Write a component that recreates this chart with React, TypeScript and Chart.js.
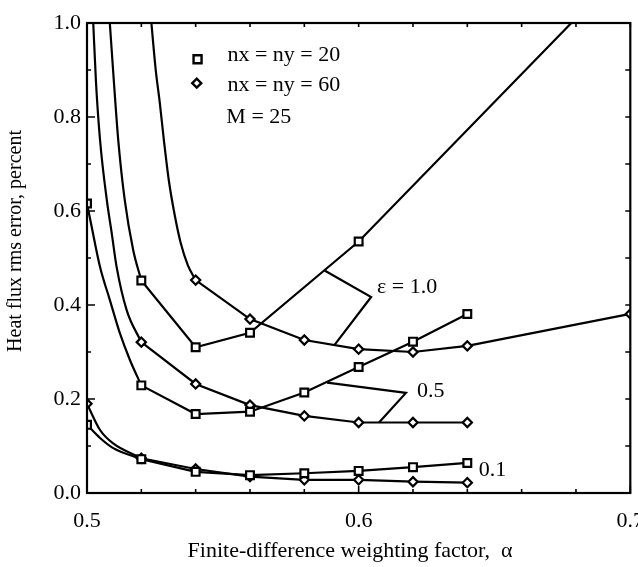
import React, { useEffect, useRef } from 'react';
import { Chart, registerables } from 'chart.js';

Chart.register(...registerables);

// Abscissas where markers are drawn (finite-difference weighting factor)
const alphaValues = [0.5, 0.52, 0.54, 0.56, 0.58, 0.6, 0.62, 0.64, 0.7];

// Heat flux rms error (percent) at the marked abscissas; null = no marker
const eps10Nx20 = [null, 0.452, 0.31, 0.341, null, 0.535, null, null, null];
const eps10Nx60 = [null, null, 0.453, 0.37, 0.3255, 0.306, 0.3, 0.313, 0.381];
const eps05Nx20 = [0.616, 0.229, 0.168, 0.173, 0.214, 0.268, 0.322, 0.381, null];
const eps05Nx60 = [null, 0.321, 0.232, 0.187, 0.164, 0.15, 0.15, 0.15, null];
const eps01Nx20 = [0.145, 0.072, 0.045, 0.038, 0.042, 0.047, 0.055, 0.064, null];
const eps01Nx60 = [0.19, 0.074, 0.051, 0.035, 0.028, 0.028, 0.024, 0.022, null];

// Unmarked points
const eps10Nx20TraceX = [0.5084, 0.5099, 0.5115, 0.5139, 0.517, 0.6783];
const eps10Nx20TraceY = [1.0, 0.875, 0.751, 0.623, 0.517, 1.0];
const eps10Nx60TraceX = [0.5237, 0.5253, 0.5268, 0.5283, 0.5301, 0.5323, 0.5345, 0.5371];
const eps10Nx60TraceY = [1.0, 0.9, 0.83, 0.751, 0.666, 0.591, 0.532, 0.485];
const eps05Nx20TraceX = [0.5017, 0.5048, 0.5084, 0.5121, 0.5158];
const eps05Nx20TraceY = [0.567, 0.481, 0.411, 0.34, 0.283];
const eps05Nx60TraceX = [0.5023, 0.5033, 0.5048, 0.5073, 0.5091, 0.5109, 0.5146];
const eps05Nx60TraceY = [1.0, 0.875, 0.751, 0.623, 0.553, 0.481, 0.389];
const eps01Nx20TraceX = [0.5048, 0.5095];
const eps01Nx20TraceY = [0.117, 0.096];
const eps01Nx60TraceX = [0.5048, 0.5095];
const eps01Nx60TraceY = [0.134, 0.106];

// Where each curve stops being a smooth curve and becomes straight segments
const smoothEnds = [0.52, 0.54, 0.52, 0.52, 0.52, 0.52];

// Texts
const legendLabels = ['nx = ny = 20', 'nx = ny = 60'];
const legendNote = 'M = 25';
const curveLabels = ['\u03b5 = 1.0', '0.5', '0.1'];
const xTitle = 'Finite-difference weighting factor,  \u03b1';
const yTitle = 'Heat flux rms error, percent';

type Pt = { x: number; y: number; marked: boolean };

function buildCurve(values: (number | null)[], traceX: number[], traceY: number[]): Pt[] {
  const pts: Pt[] = [];
  alphaValues.forEach((a, i) => {
    const v = values[i];
    if (v !== null && v !== undefined) pts.push({ x: a, y: v, marked: true });
  });
  traceX.forEach((x, i) => pts.push({ x, y: traceY[i], marked: false }));
  pts.sort((p, q) => p.x - q.x);
  return pts;
}

const FONT = '"Liberation Serif", "Times New Roman", serif';
const isMultiple = (v: number, step: number) => Math.abs(v / step - Math.round(v / step)) < 1e-6;

function drawSquare(ctx: CanvasRenderingContext2D, x: number, y: number, half: number) {
  ctx.beginPath();
  ctx.rect(x - half, y - half, 2 * half, 2 * half);
  ctx.fillStyle = '#fff';
  ctx.fill();
  ctx.stroke();
}
function drawDiamond(ctx: CanvasRenderingContext2D, x: number, y: number, r: number) {
  ctx.beginPath();
  ctx.moveTo(x - r, y);
  ctx.lineTo(x, y - r);
  ctx.lineTo(x + r, y);
  ctx.lineTo(x, y + r);
  ctx.closePath();
  ctx.fillStyle = '#fff';
  ctx.fill();
  ctx.stroke();
}

const decorPlugin = {
  id: 'decor',
  afterDraw(chart: any) {
    const { ctx, chartArea } = chart;
    const { left, right, top, bottom } = chartArea;
    const xs = chart.scales.x;
    const ys = chart.scales.y;
    const px = (v: number) => xs.getPixelForValue(v);
    const py = (v: number) => ys.getPixelForValue(v);
    ctx.save();
    ctx.strokeStyle = '#000';
    ctx.fillStyle = '#000';
    ctx.lineWidth = 2.2;
    ctx.strokeRect(left, top, right - left, bottom - top);

    ctx.lineWidth = 1.6;
    ctx.beginPath();
    xs.ticks.forEach((t: any) => {
      const p = px(t.value);
      const major = isMultiple(t.value, 0.1);
      ctx.moveTo(p, bottom);
      ctx.lineTo(p, bottom - (major ? 7 : 4));
      ctx.moveTo(p, top);
      ctx.lineTo(p, top + 4);
    });
    ys.ticks.forEach((t: any) => {
      const p = py(t.value);
      const major = isMultiple(t.value, 0.2);
      ctx.moveTo(left, p);
      ctx.lineTo(left + (major ? 8 : 4), p);
      ctx.moveTo(right, p);
      ctx.lineTo(right - 5, p);
    });
    ctx.stroke();

    // legend
    ctx.lineWidth = 2.4;
    drawSquare(ctx, px(0.5407), py(0.923), 4);
    drawDiamond(ctx, px(0.5404), py(0.872), 4.5);
    ctx.fillStyle = '#000';
    ctx.font = `22px ${FONT}`;
    ctx.textAlign = 'left';
    ctx.textBaseline = 'middle';
    ctx.fillText(legendLabels[0], px(0.5517), py(0.932));
    ctx.fillText(legendLabels[1], px(0.5517), py(0.868));
    ctx.fillText(legendNote, px(0.5513), py(0.8));

    // curve labels with brackets
    ctx.lineWidth = 2.2;
    const bracket = (pts: number[][]) => {
      ctx.beginPath();
      pts.forEach(([a, b], i) => (i ? ctx.lineTo(px(a), py(b)) : ctx.moveTo(px(a), py(b))));
      ctx.stroke();
    };
    bracket([[0.5873, 0.474], [0.6046, 0.417], [0.591, 0.314]]);
    bracket([[0.5884, 0.235], [0.6174, 0.213], [0.6075, 0.15]]);
    ctx.fillText(curveLabels[0], px(0.6068), py(0.438));
    ctx.fillText(curveLabels[1], px(0.6215), py(0.217));
    ctx.fillText(curveLabels[2], px(0.6442), py(0.049));

    // axis titles
    ctx.textAlign = 'center';
    ctx.font = `22px ${FONT}`;
    ctx.fillText(xTitle, 350, 551);
    ctx.font = `20px ${FONT}`;
    ctx.translate(16, 241);
    ctx.rotate(-Math.PI / 2);
    ctx.fillText(yTitle, 0, 0);
    ctx.restore();
  },
};

export default function App() {
  const ref = useRef<HTMLCanvasElement>(null);
  useEffect(() => {
    document.body.style.margin = '0';
    document.body.style.background = '#fff';
    const canvas = ref.current;
    if (!canvas) return;
    const curves = [
      { pts: buildCurve(eps10Nx20, eps10Nx20TraceX, eps10Nx20TraceY), style: 'rect' },
      { pts: buildCurve(eps10Nx60, eps10Nx60TraceX, eps10Nx60TraceY), style: 'rectRot' },
      { pts: buildCurve(eps05Nx20, eps05Nx20TraceX, eps05Nx20TraceY), style: 'rect' },
      { pts: buildCurve(eps05Nx60, eps05Nx60TraceX, eps05Nx60TraceY), style: 'rectRot' },
      { pts: buildCurve(eps01Nx20, eps01Nx20TraceX, eps01Nx20TraceY), style: 'rect' },
      { pts: buildCurve(eps01Nx60, eps01Nx60TraceX, eps01Nx60TraceY), style: 'rectRot' },
    ];
    const datasets: any[] = [];
    curves.forEach((c) => {
      datasets.push({
        data: c.pts.filter((p) => p.marked),
        showLine: false,
        pointStyle: c.style,
        pointRadius: c.style === 'rect' ? 5.5 : 4.6,
        pointBackgroundColor: '#fff',
        pointBorderColor: '#000',
        pointBorderWidth: 2.2,
        order: 0,
      });
    });
    curves.forEach((c, i) => {
      const end = smoothEnds[i];
      datasets.push({
        data: c.pts.filter((p) => p.x <= end + 1e-9),
        showLine: true,
        pointRadius: 0,
        borderColor: '#000',
        borderWidth: 2.2,
        cubicInterpolationMode: 'monotone',
        capBezierPoints: false,
        order: 1,
      });
      datasets.push({
        data: c.pts.filter((p) => p.x >= end - 1e-9),
        showLine: true,
        pointRadius: 0,
        borderColor: '#000',
        borderWidth: 2.2,
        tension: 0,
        order: 1,
      });
    });
    const tickFont = { family: FONT, size: 22 };
    const chart = new Chart(canvas, {
      type: 'scatter',
      data: { datasets },
      options: {
        animation: false,
        responsive: false,
        events: [],
        layout: { padding: { left: 0, top: 23, right: 6, bottom: 0 } },
        plugins: { legend: { display: false }, tooltip: { enabled: false } },
        scales: {
          x: {
            type: 'linear',
            min: 0.5,
            max: 0.7,
            grid: { display: false, drawTicks: false },
            border: { display: false },
            ticks: {
              stepSize: 0.02,
              autoSkip: false,
              maxRotation: 0,
              padding: 15,
              color: '#000',
              font: tickFont,
              callback: (v: any) => (isMultiple(+v, 0.1) ? (+v).toFixed(1) : ''),
            },
            afterFit: (s: any) => {
              s.height = 74;
              s.paddingLeft = 0;
              s.paddingRight = 0;
            },
          },
          y: {
            type: 'linear',
            min: 0,
            max: 1,
            grid: { display: false, drawTicks: false },
            border: { display: false },
            ticks: {
              stepSize: 0.1,
              autoSkip: false,
              padding: 6,
              color: '#000',
              font: tickFont,
              callback: (v: any) => (isMultiple(+v, 0.2) ? (+v).toFixed(1) : ''),
            },
            afterFit: (s: any) => {
              s.width = 87;
              s.paddingTop = 0;
              s.paddingBottom = 0;
            },
          },
        },
      } as any,
      plugins: [decorPlugin],
    });
    return () => chart.destroy();
  }, []);
  return <canvas ref={ref} width={638} height={567} style={{ display: 'block' }} />;
}
